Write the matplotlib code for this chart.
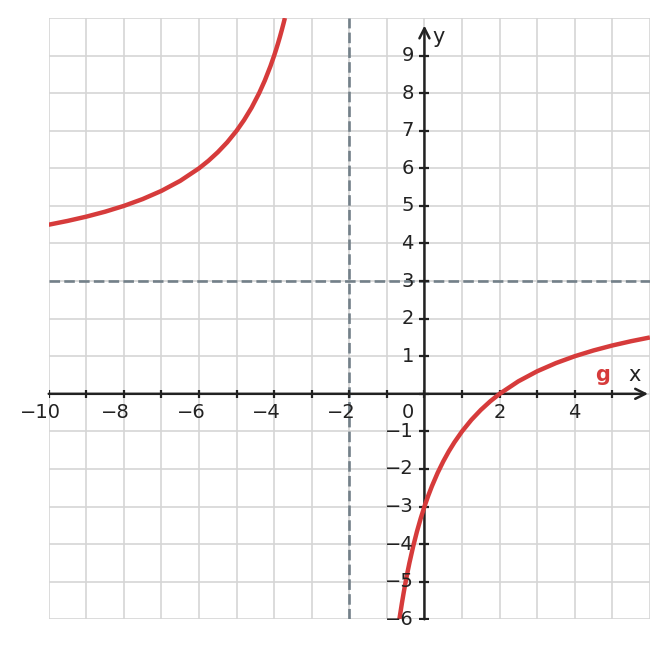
import numpy as np
import matplotlib.pyplot as plt
from matplotlib.transforms import offset_copy

# curve g (two branches around the pole at x = -2)
left_x = [-10, -9.5, -9, -8.5, -8, -7.5, -7, -6.5, -6, -5.75, -5.5, -5.25, -5,
          -4.8, -4.6, -4.4, -4.25, -4.1, -4, -3.95, -3.9, -3.85, -3.8, -3.75,
          -3.714]
left_y = [4.5, 4.6, 4.714, 4.846, 5.0, 5.182, 5.4, 5.667, 6.0, 6.2, 6.429,
          6.692, 7.0, 7.286, 7.615, 8.0, 8.333, 8.714, 9.0, 9.154, 9.316,
          9.486, 9.667, 9.857, 10.0]
right_x = [-0.667, -0.65, -0.6, -0.55, -0.5, -0.45, -0.4, -0.3, -0.2, -0.1, 0,
           0.1, 0.2, 0.35, 0.5, 0.65, 0.8, 1, 1.25, 1.5, 1.75, 2, 2.5, 3, 3.5,
           4, 4.5, 5, 5.5, 6]
right_y = [-6.0, -5.889, -5.571, -5.276, -5.0, -4.742, -4.5, -4.059, -3.667,
           -3.316, -3.0, -2.714, -2.455, -2.106, -1.8, -1.528, -1.286, -1.0,
           -0.692, -0.429, -0.2, 0.0, 0.333, 0.6, 0.818, 1.0, 1.154, 1.286,
           1.4, 1.5]

# asymptotes
asym_x = -2
asym_y = 3

xlim = (-10, 6)
ylim = (-6, 10)
x_labels = [-10, -8, -6, -4, -2, 2, 4]
y_labels = [-6, -5, -4, -3, -2, -1, 1, 2, 3, 4, 5, 6, 7, 8, 9]

red = "#d63b3b"
dark = "#222222"
dash_col = "#738089"
fs = 14

fig = plt.figure(figsize=(6.68, 6.48), dpi=100)
ax = fig.add_axes([0.0729, 0.0443, 0.9, 0.9279])
ax.set_xlim(*xlim)
ax.set_ylim(*ylim)

# grid
for gx in range(xlim[0], xlim[1] + 1):
    ax.axvline(gx, color="#d5d5d5", lw=1.2, zorder=0)
for gy in range(ylim[0], ylim[1] + 1):
    ax.axhline(gy, color="#d5d5d5", lw=1.2, zorder=0)
for s in ax.spines.values():
    s.set_visible(False)
ax.set_xticks([])
ax.set_yticks([])

# asymptotes
ax.axvline(asym_x, color=dash_col, lw=1.9, dashes=(4, 1.6), zorder=1)
ax.axhline(asym_y, color=dash_col, lw=1.9, dashes=(4, 1.6), zorder=1)

# axes with arrows
ax.annotate("", xy=(5.95, 0), xytext=(-10, 0),
            arrowprops=dict(arrowstyle="->", color=dark, lw=1.8,
                            mutation_scale=18, shrinkA=0, shrinkB=0), zorder=3)
ax.annotate("", xy=(0, 9.8), xytext=(0, -6),
            arrowprops=dict(arrowstyle="->", color=dark, lw=1.8,
                            mutation_scale=18, shrinkA=0, shrinkB=0), zorder=3)
tx = np.arange(-10, 6)
ax.plot(tx, np.zeros_like(tx), ls="none", marker="|", ms=5.5, mew=1.6,
        color=dark, zorder=3)
ty = np.arange(-6, 10)
ax.plot(np.zeros_like(ty), ty, ls="none", marker="_", ms=6.5, mew=1.6,
        color=dark, zorder=3)

# curve
for cx, cy in [(left_x, left_y), (right_x, right_y)]:
    ax.plot(cx, cy, color=red, lw=3.2, zorder=4, solid_capstyle="butt",
            solid_joinstyle="round")

# tick labels
for v in x_labels:
    lab = f"\u2212{abs(v)}" if v < 0 else str(v)
    shift = -0.419 * fs if v < 0 else 0
    tr = offset_copy(ax.transData, fig=fig, x=shift, y=0, units="points")
    ax.text(v, -0.5, lab, transform=tr, ha="center", va="center",
            fontsize=fs, color=dark, zorder=5)
ax.text(-0.45, -0.5, "0", ha="center", va="center", fontsize=fs, color=dark,
        zorder=5)
for v in y_labels:
    lab = f"\u2212{abs(v)}" if v < 0 else str(v)
    ax.text(-0.28, v, lab, ha="right", va="center", fontsize=fs, color=dark,
            zorder=5)

ax.text(5.58, 0.5, "x", ha="center", va="center", fontsize=15, color=dark)
ax.text(0.38, 9.5, "y", ha="center", va="center", fontsize=15, color=dark)
ax.text(4.73, 0.5, "g", ha="center", va="center", fontsize=15,
        fontweight="bold", color=red)

fig.savefig("out.png", dpi=100)
